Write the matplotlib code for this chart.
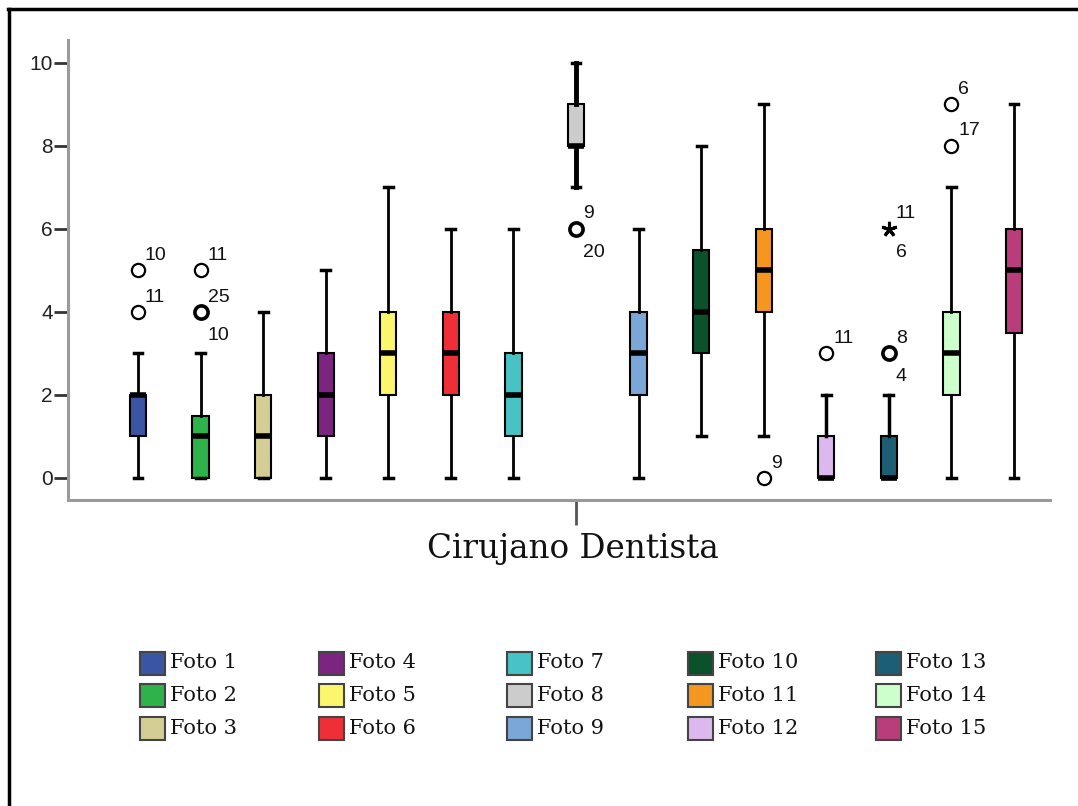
import matplotlib
matplotlib.use("Agg")
import matplotlib.pyplot as plt
from matplotlib.patches import Rectangle
from matplotlib.lines import Line2D

# ---------------- data ----------------
photos = [f"Foto {i}" for i in range(1, 16)]
whislo = [0, 0, 0, 0, 0, 0, 0, 7, 0, 1, 1, 0, 0, 0, 0]
q1     = [1, 0, 0, 1, 2, 2, 1, 8, 2, 3, 4, 0, 0, 2, 3.5]
med    = [2, 1, 1, 2, 3, 3, 2, 8, 3, 4, 5, 0, 0, 3, 5]
q3     = [2, 1.5, 2, 3, 4, 4, 3, 9, 4, 5.5, 6, 1, 1, 4, 6]
whishi = [3, 3, 4, 5, 7, 6, 6, 10, 6, 8, 9, 2, 2, 7, 9]
colors = ["#3A55A4", "#2DB34A", "#D4CD94", "#7B2480", "#FBF66E",
          "#EF2F38", "#48C2C5", "#CCCCCC", "#7BA7D6", "#0B522B",
          "#F5961E", "#DDB8EE", "#1C5E74", "#CCFFCC", "#BA3D7B"]

# outliers (circles): box index (1-based), value, case labels
out_box    = [1, 1, 2, 2, 8, 11, 12, 13, 14, 14]
out_value  = [5, 4, 5, 4, 6, 0, 3, 3, 9, 8]
out_labels = [["10"], ["11"], ["11"], ["25", "10"], ["9", "20"],
              ["9"], ["11"], ["8", "4"], ["6"], ["17"]]
# extremes (stars)
ext_box    = [13]
ext_value  = [6]
ext_labels = [["11", "6"]]

axis_label = "Cirujano Dentista"
yticks = [0, 2, 4, 6, 8, 10]

# ---------------- figure ----------------
W, H = 1078, 806
fig = plt.figure(figsize=(W / 100, H / 100), dpi=100)
fig.patch.set_facecolor("white")

ax = fig.add_axes([68 / W, 306 / H, (1050 - 68) / W, (500 - 40) / H])
positions = list(range(1, 16))

stats = []
for i in range(15):
    stats.append(dict(whislo=whislo[i], q1=q1[i], med=med[i], q3=q3[i],
                      whishi=whishi[i], fliers=[]))

whisker_lw = [2.0] * 15
whisker_lw[7] = 3.5
whisker_lw[11] = 2.5
whisker_lw[12] = 2.5

bp = ax.bxp(stats, positions=positions, widths=0.26, capwidths=0.14,
            patch_artist=True, showfliers=False,
            boxprops=dict(edgecolor="black", linewidth=1.5),
            medianprops=dict(color="black", linewidth=4.0, solid_capstyle="butt"),
            whiskerprops=dict(color="black", linewidth=2.0),
            capprops=dict(color="black", linewidth=2.5))
for i, patch in enumerate(bp["boxes"]):
    patch.set_facecolor(colors[i])
for i in range(15):
    for w in bp["whiskers"][2 * i:2 * i + 2]:
        w.set_linewidth(whisker_lw[i])

label_font = dict(family=["Liberation Sans", "DejaVu Sans"], fontsize=14, color="#111111")

def put_labels(x, y, labels):
    if len(labels) >= 1:
        ax.annotate(labels[0], (x, y), xytext=(5, 7.5), textcoords="offset points",
                    ha="left", va="baseline", **label_font)
    if len(labels) >= 2:
        ax.annotate(labels[1], (x, y), xytext=(5, -20), textcoords="offset points",
                    ha="left", va="baseline", **label_font)

for b, v, labs in zip(out_box, out_value, out_labels):
    lw = 2.6 if len(labs) > 1 else 1.6
    ax.plot([b], [v], linestyle="none", marker="o", markersize=9.5,
            markerfacecolor="none", markeredgecolor="black", markeredgewidth=lw)
    put_labels(b, v, labs)

for b, v, labs in zip(ext_box, ext_value, ext_labels):
    ax.plot([b], [v], linestyle="none", marker=(5, 2, 0), markersize=11,
            markeredgecolor="black", markeredgewidth=2.2)
    put_labels(b, v, labs)

ax.set_xlim(-0.119, 15.576)
ax.set_ylim(-0.53, 10.55)
ax.set_yticks(yticks)
ax.set_yticklabels([str(t) for t in yticks], family=["Liberation Sans", "DejaVu Sans"],
                   fontsize=15, color="#222222")
ax.tick_params(axis="y", length=10, width=2, color="#333333", pad=1)
ax.set_xticks([8])
ax.set_xticklabels([""])
ax.tick_params(axis="x", length=18, width=2, color="#555555", direction="out")

for s in ["top", "right"]:
    ax.spines[s].set_visible(False)
for s in ["left", "bottom"]:
    ax.spines[s].set_color("#9a9a9a")
    ax.spines[s].set_linewidth(2.2)

fig.text(573 / W, 1 - 558 / H, axis_label, ha="center", va="baseline",
         family=["DejaVu Serif"], fontsize=23.5, color="#111111")

# ---------------- legend ----------------
col_x = [140, 319, 507, 688, 876]
row_y = [663, 695.5, 728]
sw_w, sw_h = 25, 23
for i, (name, c) in enumerate(zip(photos, colors)):
    col, row = i // 3, i % 3
    x0, yc = col_x[col], row_y[row]
    fig.add_artist(Rectangle((x0 / W, 1 - (yc + sw_h / 2) / H), sw_w / W, sw_h / H,
                             transform=fig.transFigure, facecolor=c,
                             edgecolor="#444444", linewidth=1.5))
    fig.text((x0 + sw_w + 5) / W, 1 - yc / H, name, ha="left", va="center",
             family=["DejaVu Serif"], fontsize=15, color="#111111")

# outer frame (top and left edges)
fig.add_artist(Line2D([8 / W, 1.0], [1 - 8.5 / H, 1 - 8.5 / H], transform=fig.transFigure,
                      color="black", linewidth=2.5))
fig.add_artist(Line2D([9 / W, 9 / W], [0, 1 - 8.5 / H], transform=fig.transFigure,
                      color="black", linewidth=2.5))

fig.savefig("out.png", dpi=100, facecolor="white")
